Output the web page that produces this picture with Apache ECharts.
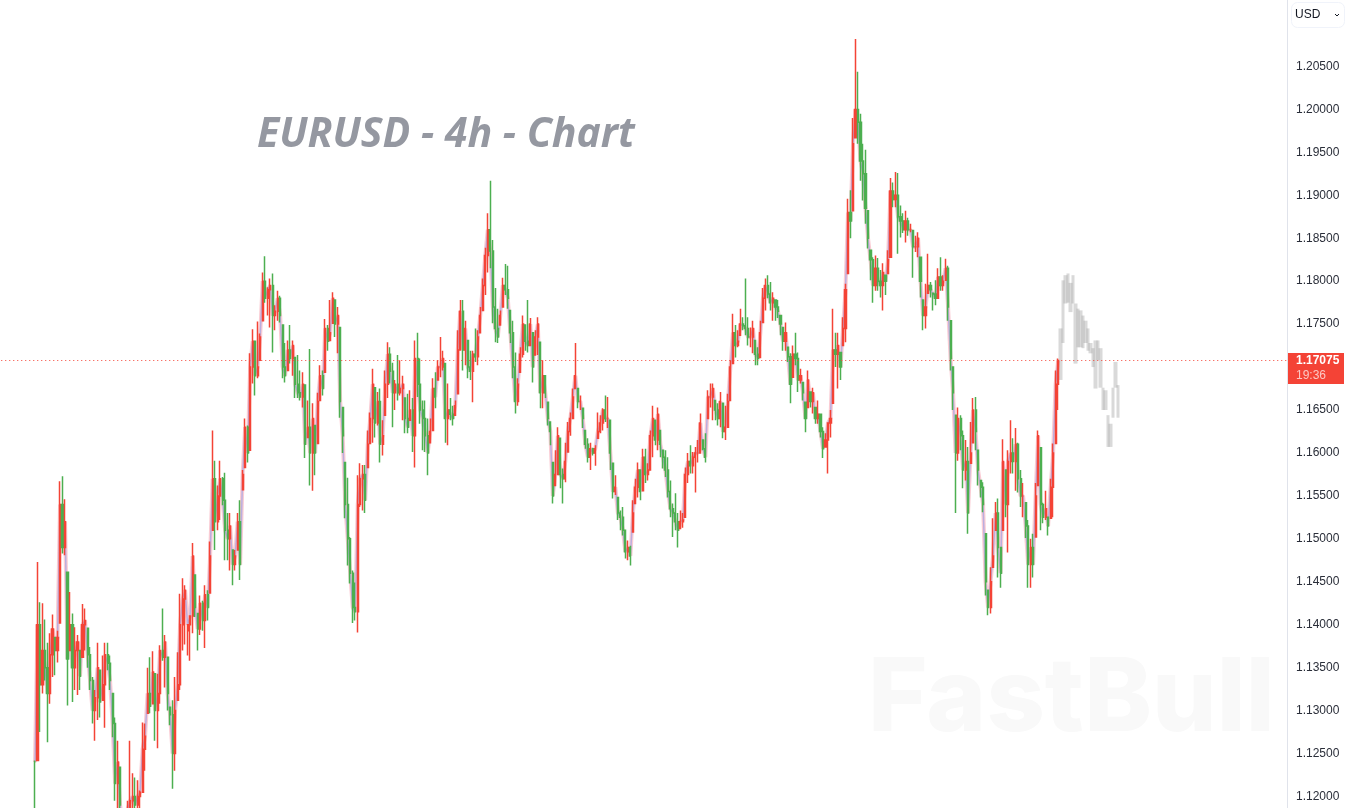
<!DOCTYPE html>
<html>
<head>
<meta charset="utf-8">
<title>EURUSD - 4h - Chart</title>
<script src="https://cdn.jsdelivr.net/npm/echarts@6/dist/echarts.min.js"></script>
<style>
  html, body { margin: 0; padding: 0; background: #fff; }
  #chart { width: 1347px; height: 808px; }
</style>
</head>
<body>
<div id="chart"></div>
<script>
// prices, in units of 0.0001
const highs = [
  11242,11473,11426,11425,11406,11379,11390,11412,11385,11393,
  11567,11573,11546,11461,11438,11413,11397,11388,11370,11424,
  11419,11396,11374,11339,11324,11379,11347,11364,11379,11379,
  11364,11320,11292,11265,11234,11184,11178,11195,11265,11227,
  11222,11219,11207,11286,11285,11350,11362,11369,11343,11343,
  11376,11419,11388,11362,11304,11312,11339,11368,11436,11454,
  11446,11393,11402,11495,11458,11413,11434,11428,11446,11440,
  11497,11626,11591,11562,11591,11572,11577,11530,11530,11487,
  11487,11530,11545,11580,11640,11632,11716,11744,11731,11753,
  11739,11810,11829,11793,11803,11809,11772,11789,11783,11749,
  11728,11731,11749,11731,11711,11714,11696,11694,11679,11661,
  11721,11658,11632,11670,11702,11696,11756,11749,11778,11787,
  11778,11770,11746,11653,11589,11571,11502,11463,11449,11574,
  11588,11586,11586,11626,11647,11698,11676,11671,11675,11638,
  11696,11729,11723,11705,11685,11714,11708,11690,11664,11669,
  11673,11664,11731,11740,11710,11661,11661,11640,11640,11687,
  11694,11708,11735,11719,11704,11681,11664,11655,11661,11743,
  11778,11778,11754,11731,11719,11719,11745,11743,11770,11803,
  11839,11879,11917,11848,11792,11768,11766,11804,11820,11818,
  11766,11754,11717,11687,11723,11760,11749,11778,11757,11740,
  11743,11758,11729,11708,11690,11659,11636,11589,11603,11630,
  11617,11582,11612,11636,11647,11675,11728,11675,11667,11652,
  11626,11617,11612,11606,11609,11647,11644,11652,11667,11665,
  11638,11588,11574,11548,11533,11537,11510,11498,11492,11545,
  11570,11589,11580,11605,11605,11588,11626,11655,11638,11653,
  11626,11603,11603,11595,11568,11541,11553,11530,11533,11530,
  11583,11600,11609,11601,11607,11615,11646,11615,11623,11673,
  11681,11681,11661,11658,11671,11658,11655,11669,11708,11762,
  11749,11743,11768,11758,11803,11758,11746,11754,11731,11723,
  11754,11792,11803,11807,11799,11787,11778,11778,11760,11746,
  11752,11723,11716,11725,11740,11717,11698,11682,11659,11696,
  11671,11676,11653,11661,11646,11630,11623,11623,11650,11768,
  11740,11740,11717,11758,11797,11896,11906,11990,12082,12044,
  11995,11960,11953,11882,11836,11828,11830,11827,11813,11821,
  11807,11836,11920,11915,11927,11926,11888,11879,11882,11874,
  11867,11859,11853,11857,11828,11778,11797,11832,11799,11786,
  11801,11815,11828,11807,11826,11818,11754,11700,11644,11653,
  11644,11626,11615,11607,11636,11664,11665,11603,11568,11566,
  11506,11440,11467,11524,11543,11547,11490,11616,11580,11603,
  11638,11617,11629,11612,11580,11565,11542,11522,11500,11506,
  11565,11626,11606,11542,11556,11525,11570,11611,11696,11710
];
const lows = [
  11180,11242,11275,11320,11335,11263,11308,11339,11341,11356,
  11402,11483,11481,11306,11370,11310,11324,11318,11324,11362,
  11370,11350,11324,11285,11265,11289,11292,11312,11280,11347,
  11324,11269,11195,11170,11160,11150,11150,11160,11170,11175,
  11175,11175,11180,11204,11230,11297,11297,11308,11265,11256,
  11308,11358,11327,11300,11283,11209,11230,11312,11324,11370,
  11377,11364,11358,11390,11409,11370,11388,11393,11373,11405,
  11437,11510,11487,11510,11522,11539,11475,11475,11463,11446,
  11463,11487,11452,11557,11583,11589,11603,11681,11667,11687,
  11708,11754,11775,11760,11746,11717,11743,11754,11752,11687,
  11682,11696,11704,11690,11664,11664,11661,11653,11594,11618,
  11562,11556,11574,11611,11661,11667,11694,11719,11731,11751,
  11735,11716,11641,11600,11524,11469,11448,11402,11405,11391,
  11537,11533,11530,11583,11611,11612,11618,11632,11589,11597,
  11644,11664,11681,11630,11650,11661,11667,11638,11623,11623,
  11638,11601,11583,11665,11634,11603,11601,11574,11612,11626,
  11652,11685,11688,11696,11612,11609,11638,11632,11644,11669,
  11719,11696,11702,11687,11685,11659,11706,11702,11740,11766,
  11784,11810,11815,11751,11729,11728,11749,11770,11784,11768,
  11728,11687,11646,11655,11694,11711,11719,11717,11725,11682,
  11714,11714,11652,11652,11664,11632,11609,11541,11562,11574,
  11559,11541,11566,11601,11620,11640,11675,11652,11650,11629,
  11605,11589,11580,11597,11585,11617,11623,11626,11636,11629,
  11580,11547,11551,11522,11510,11504,11477,11475,11469,11508,
  11541,11548,11545,11556,11565,11568,11580,11595,11609,11603,
  11595,11582,11572,11548,11525,11502,11510,11490,11512,11513,
  11525,11565,11576,11576,11554,11589,11600,11603,11589,11640,
  11653,11638,11638,11632,11630,11617,11615,11630,11661,11704,
  11711,11723,11737,11743,11737,11725,11723,11716,11702,11702,
  11711,11752,11766,11780,11766,11754,11754,11757,11737,11719,
  11719,11706,11658,11688,11702,11671,11681,11661,11624,11653,
  11653,11646,11634,11634,11618,11594,11607,11576,11618,11658,
  11700,11675,11685,11725,11729,11809,11850,11882,11967,11960,
  11917,11894,11867,11838,11801,11775,11789,11789,11781,11766,
  11784,11809,11828,11886,11886,11832,11851,11856,11845,11853,
  11857,11804,11834,11828,11781,11743,11745,11786,11781,11766,
  11772,11780,11789,11789,11801,11754,11696,11650,11530,11591,
  11603,11559,11568,11506,11588,11612,11603,11562,11548,11531,
  11434,11411,11413,11467,11510,11455,11443,11510,11525,11484,
  11576,11576,11556,11554,11537,11525,11501,11443,11443,11455,
  11502,11562,11510,11518,11522,11504,11524,11525,11611,11650
];
const closes = [
  11240,11400,11330,11370,11350,11320,11365,11395,11370,11385,
  11540,11490,11520,11360,11400,11350,11370,11380,11340,11400,
  11405,11365,11335,11300,11315,11350,11310,11330,11365,11355,
  11335,11285,11215,11240,11190,11170,11165,11185,11195,11200,
  11190,11200,11205,11255,11270,11320,11305,11345,11300,11320,
  11370,11362,11380,11320,11295,11250,11300,11330,11400,11430,
  11440,11400,11410,11480,11420,11395,11425,11405,11435,11420,
  11480,11570,11520,11550,11570,11545,11510,11500,11515,11470,
  11480,11520,11470,11575,11630,11600,11700,11730,11690,11700,
  11735,11800,11780,11790,11795,11760,11765,11780,11760,11700,
  11690,11720,11710,11725,11680,11670,11665,11680,11610,11630,
  11600,11640,11600,11660,11690,11675,11745,11730,11740,11780,
  11750,11760,11660,11620,11540,11500,11460,11420,11415,11540,
  11570,11575,11545,11610,11640,11680,11635,11660,11610,11620,
  11680,11715,11695,11670,11680,11670,11675,11680,11640,11630,
  11650,11620,11710,11680,11650,11640,11620,11600,11625,11675,
  11665,11700,11700,11710,11640,11650,11645,11640,11655,11720,
  11765,11720,11745,11700,11695,11715,11712,11735,11760,11795,
  11830,11860,11835,11770,11745,11735,11760,11795,11790,11780,
  11740,11700,11660,11680,11715,11750,11730,11725,11750,11700,
  11735,11750,11670,11690,11670,11640,11625,11550,11575,11620,
  11575,11570,11590,11625,11640,11665,11690,11660,11660,11640,
  11610,11595,11605,11600,11605,11625,11635,11650,11640,11640,
  11600,11555,11560,11530,11525,11510,11485,11490,11480,11530,
  11560,11580,11555,11595,11575,11580,11620,11640,11615,11645,
  11610,11595,11580,11555,11535,11530,11520,11510,11520,11522,
  11575,11590,11585,11595,11600,11600,11635,11605,11595,11665,
  11665,11675,11650,11640,11660,11625,11630,11660,11700,11740,
  11725,11730,11750,11748,11745,11735,11735,11745,11715,11710,
  11740,11780,11795,11785,11775,11780,11770,11765,11750,11730,
  11740,11712,11680,11715,11710,11685,11690,11670,11640,11685,
  11660,11670,11640,11645,11625,11605,11615,11635,11640,11720,
  11715,11725,11700,11745,11790,11880,11870,11960,12000,11985,
  11940,11925,11885,11850,11825,11795,11815,11800,11795,11810,
  11800,11825,11905,11895,11900,11875,11870,11860,11870,11860,
  11860,11840,11840,11850,11800,11760,11770,11795,11790,11785,
  11780,11805,11795,11800,11815,11770,11710,11670,11600,11640,
  11620,11580,11590,11530,11600,11650,11625,11580,11560,11540,
  11450,11420,11450,11480,11530,11490,11460,11590,11540,11590,
  11600,11590,11610,11570,11550,11550,11515,11470,11490,11470,
  11550,11620,11540,11525,11535,11515,11560,11600,11680,11707.5
];
// the grey projection after the last bar
const ghostHighs = [11745,11801,11807,11809,11798,11807,11774,11768,11766,11760,11754,11745,11728,11722,11731,11731,11722,11676,11673,11644,11634,11676,11706,11679];
const ghostLows = [11685,11728,11774,11775,11764,11774,11704,11723,11723,11722,11728,11719,11716,11700,11675,11708,11676,11650,11650,11607,11607,11641,11676,11641];
const lastPrice = 1.17075;
const countdown = '19:36';
const totalSlots = 514;
const firstSlot = 13;

let categories = [];
for (let i = 0; i < totalSlots; i++) {
  categories.push(i);
}

let candleData = [];
let closeData = [];
let ghostData = [];
for (let i = 0; i < totalSlots; i++) {
  let k = i - firstSlot;
  if (k >= 0 && k < closes.length) {
    let open = k > 0 ? closes[k - 1] : closes[k];
    open = Math.min(highs[k], Math.max(lows[k], open));
    candleData.push([open / 10000, closes[k] / 10000, lows[k] / 10000, highs[k] / 10000]);
    closeData.push(closes[k] / 10000);
  } else {
    candleData.push('-');
    closeData.push('-');
  }
  let g = k - closes.length;
  if (g >= 0 && g < ghostHighs.length) {
    ghostData.push([ghostLows[g] / 10000, ghostHighs[g] / 10000, ghostLows[g] / 10000, ghostHighs[g] / 10000]);
  } else {
    ghostData.push('-');
  }
}

const myChart = echarts.init(document.getElementById('chart'));
const option = {
  animation: false,
  backgroundColor: '#fff',
  title: {
    text: 'EURUSD - 4h - Chart',
    left: 252,
    top: 110,
    textStyle: {
      fontFamily: 'Open Sans',
      fontStyle: 'italic',
      fontWeight: 'bold',
      fontSize: 41,
      color: '#9598a1'
    }
  },
  grid: {
    left: 1.25,
    right: 60,
    top: -19.4,
    bottom: -31.4,
    outerBoundsMode: 'none'
  },
  xAxis: {
    type: 'category',
    data: categories,
    boundaryGap: true,
    show: false
  },
  yAxis: {
    type: 'value',
    position: 'right',
    min: 1.115,
    max: 1.215,
    interval: 0.005,
    scale: true,
    axisLine: { show: true, lineStyle: { color: '#e0e3eb' } },
    axisTick: { show: false },
    splitLine: { show: false },
    axisLabel: {
      margin: 9,
      color: '#2a2e39',
      fontFamily: 'Liberation Sans',
      fontSize: 12,
      padding: [3, 0, 0, 0],
      formatter: function (v) {
        // nothing is labelled above 1.205, the currency button sits there
        return v > 1.2055 ? '' : v.toFixed(5);
      }
    }
  },
  series: [
    {
      name: 'pale',
      type: 'line',
      data: closeData,
      symbol: 'none',
      z: 1,
      lineStyle: { color: 'rgba(244,143,160,0.45)', width: 4 }
    },
    {
      name: 'core',
      type: 'line',
      data: closeData,
      symbol: 'none',
      z: 1,
      lineStyle: { color: 'rgba(90,130,240,0.4)', width: 1.5 }
    },
    {
      name: 'ghost',
      type: 'candlestick',
      data: ghostData,
      barWidth: 4,
      z: 2,
      itemStyle: {
        color: 'rgba(110,110,110,0.26)',
        color0: 'rgba(110,110,110,0.26)',
        borderColor: 'rgba(110,110,110,0)',
        borderColor0: 'rgba(110,110,110,0)',
        borderWidth: 0
      }
    },
    {
      name: 'EURUSD',
      type: 'candlestick',
      data: candleData,
      barWidth: 1.6,
      z: 3,
      itemStyle: {
        color: '#f44336',
        color0: '#4caf50',
        borderColor: '#f44336',
        borderColor0: '#4caf50',
        borderWidth: 1.5
      },
      markLine: {
        silent: true,
        symbol: 'none',
        animation: false,
        precision: 5,
        lineStyle: { color: '#f44336', type: [1, 3], width: 1, opacity: 1 },
        data: [{ yAxis: lastPrice }],
        label: {
          show: true,
          position: 'end',
          distance: 1,
          align: 'left',
          formatter: '{s| }\n{a|' + lastPrice.toFixed(5) + '}\n{b|' + countdown + '}',
          rich: {
            s: { height: 16, lineHeight: 16, width: 56, fontSize: 1 },
            a: { color: '#fff', fontWeight: 'bold', fontFamily: 'Liberation Sans', fontSize: 12, width: 48, height: 15, lineHeight: 15, padding: [0, 0, 0, 8], backgroundColor: '#f44336' },
            b: { color: 'rgba(255,255,255,0.7)', fontFamily: 'Liberation Sans', fontSize: 12, width: 48, height: 16, lineHeight: 16, padding: [0, 0, 0, 8], backgroundColor: '#f44336' }
          }
        }
      }
    }
  ],
  graphic: [
    {
      type: 'text',
      z: -1,
      silent: true,
      left: 868,
      top: 649,
      style: {
        text: 'FastBull',
        fontFamily: 'Inter',
        fontWeight: 800,
        fontSize: 102,
        fill: '#f9f9f9',
        shadowColor: 'rgba(0,0,0,0.08)',
        shadowBlur: 12,
        shadowOffsetY: 6
      }
    },
    {
      type: 'rect',
      silent: true,
      shape: { x: 1291.5, y: 2.5, width: 53, height: 25, r: 6 },
      style: { fill: '#fff', stroke: '#f0f3fa', lineWidth: 1 }
    },
    {
      type: 'text',
      silent: true,
      x: 1295,
      y: 9,
      style: { text: 'USD', fontFamily: 'Liberation Sans', fontSize: 12, fill: '#131722' }
    },
    {
      type: 'polyline',
      silent: true,
      shape: { points: [[1335, 14], [1337, 16], [1339, 14]] },
      style: { stroke: '#131722', lineWidth: 1, fill: null }
    }
  ]
};
myChart.setOption(option);
</script>
</body>
</html>
